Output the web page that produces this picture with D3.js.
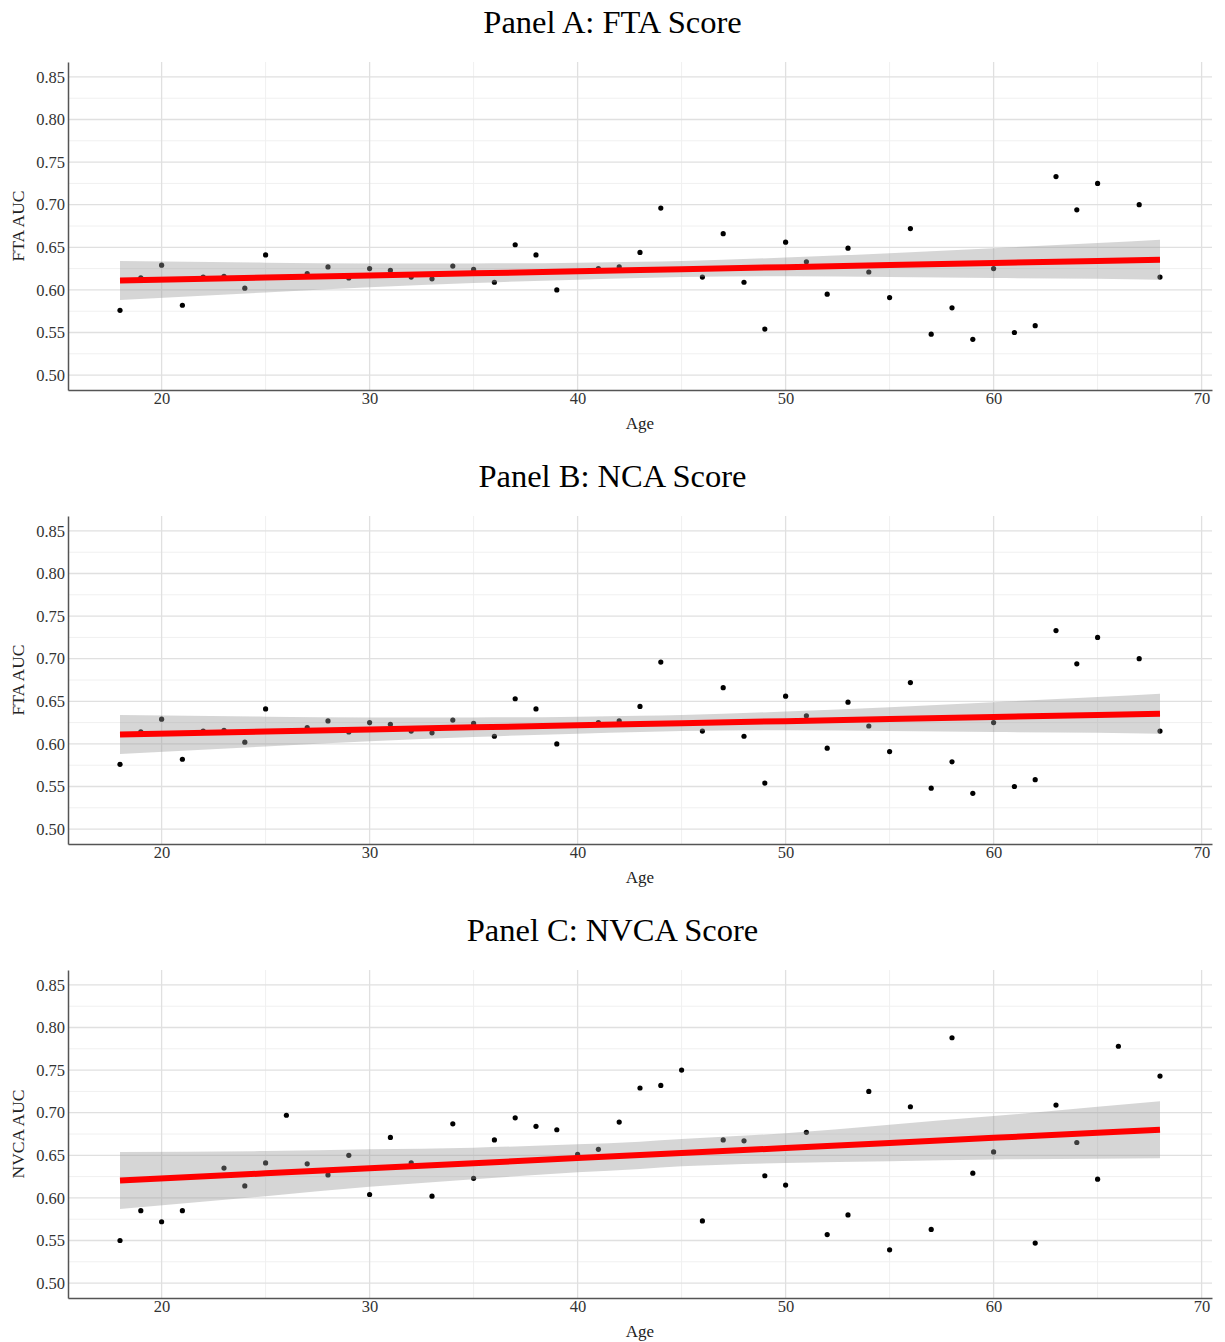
<!DOCTYPE html>
<html>
<head>
<meta charset="utf-8">
<script src="https://cdn.jsdelivr.net/npm/d3@7"></script>
<style>
  body { margin: 0; background: #fff; }
</style>
</head>
<body>
<div id="my_dataviz"></div>
<script>
// data
var ftaAges = [18,19,20,21,22,23,24,25,27,28,29,30,31,32,33,34,35,36,37,38,39,41,42,43,44,46,47,48,49,50,51,52,53,54,55,56,57,58,59,60,61,62,63,64,65,67,68];
var ftaAuc = [0.576,0.614,0.629,0.582,0.615,0.616,0.602,0.641,0.619,0.627,0.614,0.625,0.623,0.615,0.613,0.628,0.624,0.609,0.653,0.641,0.600,0.625,0.627,0.644,0.696,0.615,0.666,0.609,0.554,0.656,0.633,0.595,0.649,0.621,0.591,0.672,0.548,0.579,0.542,0.625,0.550,0.558,0.733,0.694,0.725,0.700,0.615];

var nvcaAges = [18,19,20,21,23,24,25,26,27,28,29,30,31,32,33,34,35,36,37,38,39,40,41,42,43,44,45,46,47,48,49,50,51,52,53,54,55,56,57,58,59,60,62,63,64,65,66,68];
var nvcaAuc = [0.550,0.585,0.572,0.585,0.635,0.614,0.641,0.697,0.640,0.627,0.650,0.604,0.671,0.641,0.602,0.687,0.623,0.668,0.694,0.684,0.680,0.651,0.657,0.689,0.729,0.732,0.750,0.573,0.668,0.667,0.626,0.615,0.677,0.557,0.580,0.725,0.539,0.707,0.563,0.788,0.629,0.654,0.547,0.709,0.665,0.622,0.778,0.743];

// fitted line and 95% band (geom_smooth lm), read at these ages
var fitAges = [18,25,30,35,40,43,45,50,55,60,65,68];
var ftaFit  = [0.611,0.6145,0.617,0.6194,0.6218,0.6233,0.6243,0.6267,0.6291,0.6316,0.634,0.6354];
var ftaLo   = [0.588,0.597,0.603,0.608,0.612,0.614,0.615,0.616,0.615,0.614,0.613,0.612];
var ftaHi   = [0.634,0.632,0.631,0.631,0.632,0.633,0.634,0.638,0.643,0.649,0.655,0.659];
var nvcaFit = [0.6205,0.6288,0.6348,0.6407,0.6467,0.6503,0.6526,0.6586,0.6645,0.6705,0.6765,0.680];
var nvcaLo  = [0.587,0.602,0.613,0.622,0.630,0.634,0.637,0.641,0.643,0.645,0.646,0.6465];
var nvcaHi  = [0.654,0.655,0.657,0.659,0.663,0.666,0.669,0.676,0.686,0.696,0.707,0.7135];

var yTicks = [0.50,0.55,0.60,0.65,0.70,0.75,0.80,0.85];
var xTicks = [20,30,40,50,60,70];

var panels = [
  {title: "Panel A: FTA Score",  ylab: "FTA AUC",  ages: ftaAges,  auc: ftaAuc,  fit: ftaFit,  lo: ftaLo,  hi: ftaHi},
  {title: "Panel B: NCA Score",  ylab: "FTA AUC",  ages: ftaAges,  auc: ftaAuc,  fit: ftaFit,  lo: ftaLo,  hi: ftaHi},
  {title: "Panel C: NVCA Score", ylab: "NVCA AUC", ages: nvcaAges, auc: nvcaAuc, fit: nvcaFit, lo: nvcaLo, hi: nvcaHi}
];

var W = 1225, H = 1342;
var margin = {top: 62, right: 13, bottom: 0, left: 68},
    width = W - margin.left - margin.right,
    height = 328,
    step = 454;

var svg = d3.select("#my_dataviz")
  .append("svg")
    .attr("width", W)
    .attr("height", H)
    .style("font-family", "'Liberation Serif', 'Times New Roman', serif");

var x = d3.scaleLinear().domain([15.5, 70.5]).range([0, width]);
var y = d3.scaleLinear().domain([0.4825, 0.8675]).range([height, 0]);

panels.forEach(function(p, i) {
  var top = margin.top + i * step;

  // title
  svg.append("text")
    .attr("x", W / 2)
    .attr("y", top - 29)
    .attr("text-anchor", "middle")
    .style("font-size", "32.5px")
    .style("fill", "#000")
    .text(p.title);

  var g = svg.append("g")
    .attr("transform", "translate(" + margin.left + "," + top + ")");

  // minor grid
  var xMinor = [25,35,45,55,65];
  var yMinor = [0.525,0.575,0.625,0.675,0.725,0.775,0.825];
  g.selectAll(".xmin").data(xMinor).enter().append("line")
    .attr("x1", function(d) { return x(d); }).attr("x2", function(d) { return x(d); })
    .attr("y1", 0).attr("y2", height)
    .style("stroke", "#f0f0f0").style("stroke-width", 1);
  g.selectAll(".ymin").data(yMinor).enter().append("line")
    .attr("x1", 0).attr("x2", width)
    .attr("y1", function(d) { return y(d); }).attr("y2", function(d) { return y(d); })
    .style("stroke", "#f0f0f0").style("stroke-width", 1);

  // major grid
  g.selectAll(".xmaj").data(xTicks).enter().append("line")
    .attr("x1", function(d) { return x(d); }).attr("x2", function(d) { return x(d); })
    .attr("y1", 0).attr("y2", height)
    .style("stroke", "#e0e0e0").style("stroke-width", 1.3);
  g.selectAll(".ymaj").data(yTicks).enter().append("line")
    .attr("x1", 0).attr("x2", width)
    .attr("y1", function(d) { return y(d); }).attr("y2", function(d) { return y(d); })
    .style("stroke", "#e0e0e0").style("stroke-width", 1.3);

  // points
  g.selectAll(".pt").data(p.ages).enter().append("circle")
    .attr("cx", function(d) { return x(d); })
    .attr("cy", function(d, j) { return y(p.auc[j]); })
    .attr("r", 2.6)
    .style("fill", "#000");

  // confidence band on top of points, like geom_smooth
  var band = d3.area()
    .x(function(d) { return x(d); })
    .y0(function(d, j) { return y(p.lo[j]); })
    .y1(function(d, j) { return y(p.hi[j]); })
    .curve(d3.curveMonotoneX);
  g.append("path")
    .datum(fitAges)
    .attr("d", band)
    .style("fill", "#999999")
    .style("opacity", 0.4);

  var line = d3.line()
    .x(function(d) { return x(d); })
    .y(function(d, j) { return y(p.fit[j]); });
  g.append("path")
    .datum(fitAges)
    .attr("d", line)
    .style("fill", "none")
    .style("stroke", "#ff0000")
    .style("stroke-width", 6);

  // axes
  var xAxis = g.append("g")
    .attr("transform", "translate(0," + height + ")")
    .call(d3.axisBottom(x).tickValues(xTicks).tickSize(0).tickPadding(2));
  var yAxis = g.append("g")
    .call(d3.axisLeft(y).tickValues(yTicks).tickFormat(d3.format(".2f")).tickSize(0).tickPadding(3));
  [xAxis, yAxis].forEach(function(a) {
    a.select(".domain").style("stroke", "#555").style("stroke-width", 1.5);
    a.selectAll("text")
      .style("font-family", "'Liberation Serif', 'Times New Roman', serif")
      .style("font-size", "16.5px")
      .style("fill", "#333");
  });

  // axis titles
  g.append("text")
    .attr("x", width / 2)
    .attr("y", height + 39)
    .attr("text-anchor", "middle")
    .style("font-size", "17px")
    .style("fill", "#222")
    .text("Age");
  g.append("text")
    .attr("transform", "translate(" + (-44) + "," + (height / 2) + ") rotate(-90)")
    .attr("text-anchor", "middle")
    .style("font-size", "17.5px")
    .style("fill", "#222")
    .text(p.ylab);
});
</script>
</body>
</html>
